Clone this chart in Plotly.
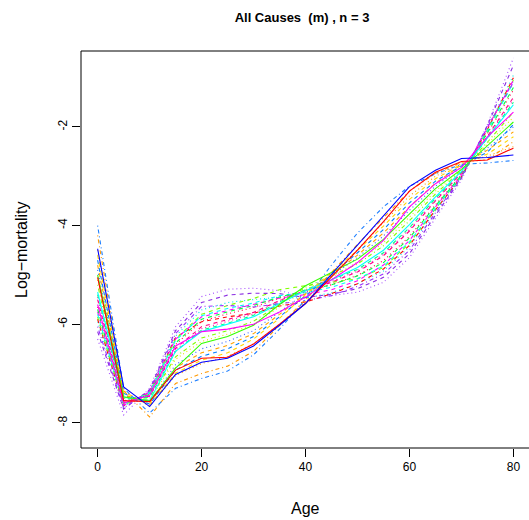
import plotly.graph_objects as go

ages = [0, 5, 10, 15, 20, 25, 30, 35, 40, 45, 50, 55, 60, 65, 70, 75, 80]

blue_solid = [-4.47, -7.27, -7.67, -7.02, -6.77, -6.69, -6.44, -6.02, -5.58, -4.99, -4.39, -3.80, -3.21, -2.88, -2.64, -2.62, -2.57]
red_solid = [-5.05, -7.55, -7.57, -6.93, -6.69, -6.67, -6.40, -6.00, -5.58, -5.05, -4.50, -3.92, -3.30, -2.92, -2.70, -2.67, -2.43]
dodger_dotdash = [-4.00, -7.30, -7.80, -7.30, -7.10, -6.95, -6.62, -6.10, -5.50, -4.80, -4.15, -3.62, -3.20, -2.95, -2.76, -2.73, -2.68]
orange_dotdash = [-4.20, -7.35, -7.88, -7.20, -7.00, -6.85, -6.55, -6.03, -5.50, -4.95, -4.38, -3.84, -3.30, -2.94, -2.72, -2.66, -2.30]
yellow_dash = [-4.60, -7.37, -7.64, -6.99, -6.73, -6.58, -6.30, -5.88, -5.40, -4.95, -4.50, -4.01, -3.47, -3.05, -2.76, -2.55, -2.20]
green_solid = [-5.00, -7.47, -7.56, -6.89, -6.39, -6.25, -6.02, -5.60, -5.22, -4.95, -4.68, -4.28, -3.76, -3.25, -2.86, -2.37, -1.90]
cyan_solid = [-5.35, -7.48, -7.55, -6.55, -6.15, -6.00, -5.85, -5.58, -5.32, -5.10, -4.85, -4.50, -3.98, -3.42, -2.90, -2.22, -1.55]
magenta_solid = [-5.60, -7.60, -7.44, -6.44, -6.15, -6.10, -6.00, -5.75, -5.45, -5.10, -4.75, -4.30, -3.62, -3.15, -2.82, -2.20, -1.70]
purple_dot = [-6.30, -7.84, -7.30, -6.05, -5.44, -5.29, -5.27, -5.32, -5.45, -5.42, -5.35, -5.15, -4.65, -3.85, -3.08, -1.95, -0.60]
purple_dotdash = [-6.05, -7.70, -7.35, -6.19, -5.64, -5.62, -5.65, -5.58, -5.52, -5.42, -5.23, -4.98, -4.50, -3.74, -3.02, -2.00, -1.10]
cyan_dash = [-5.80, -7.62, -7.40, -6.33, -5.83, -5.68, -5.57, -5.42, -5.36, -5.25, -5.08, -4.82, -4.33, -3.64, -3.00, -2.08, -1.10]
red_dash = [-5.90, -7.65, -7.38, -6.27, -5.95, -5.85, -5.78, -5.63, -5.55, -5.38, -5.18, -4.88, -4.40, -3.68, -3.01, -2.05, -1.00]
green_dash = [-5.70, -7.60, -7.42, -6.38, -5.90, -5.75, -5.62, -5.45, -5.32, -5.20, -5.02, -4.75, -4.25, -3.60, -2.98, -2.12, -1.20]
orange_dash = [-4.80, -7.43, -7.60, -6.88, -6.58, -6.43, -6.19, -5.80, -5.38, -5.00, -4.60, -4.15, -3.62, -3.14, -2.77, -2.47, -2.10]
yellow_dot = [-5.10, -7.48, -7.54, -6.71, -6.35, -6.20, -6.00, -5.65, -5.30, -5.05, -4.74, -4.35, -3.83, -3.30, -2.86, -2.35, -1.80]
dodger_dash = [-4.70, -7.40, -7.62, -6.93, -6.65, -6.50, -6.25, -5.85, -5.42, -5.00, -4.55, -4.08, -3.54, -3.10, -2.79, -2.51, -1.95]
magenta_dash = [-5.75, -7.64, -7.38, -6.30, -5.85, -5.72, -5.60, -5.47, -5.40, -5.30, -5.12, -4.80, -4.30, -3.62, -2.98, -2.03, -1.05]
pink_dash = [-5.50, -7.56, -7.46, -6.49, -6.05, -5.90, -5.76, -5.52, -5.32, -5.15, -4.94, -4.61, -4.11, -3.50, -2.93, -2.19, -1.40]
spring_dash = [-5.40, -7.52, -7.48, -6.55, -6.12, -5.98, -5.82, -5.55, -5.30, -5.10, -4.89, -4.55, -4.04, -3.45, -2.91, -2.23, -1.50]
blue_dot = [-4.90, -7.45, -7.58, -6.82, -6.50, -6.35, -6.13, -5.75, -5.37, -5.02, -4.65, -4.21, -3.69, -3.20, -2.82, -2.43, -2.00]
cyan_dot = [-5.95, -7.66, -7.37, -6.24, -5.71, -5.56, -5.50, -5.45, -5.47, -5.36, -5.18, -4.92, -4.43, -3.70, -3.02, -2.03, -0.95]
red_dot = [-5.65, -7.60, -7.43, -6.41, -5.94, -5.79, -5.66, -5.47, -5.34, -5.20, -5.01, -4.71, -4.22, -3.58, -2.97, -2.13, -1.25]
lime_dotdash = [-5.20, -7.50, -7.52, -6.66, -6.28, -6.13, -5.94, -5.60, -5.25, -5.02, -4.78, -4.41, -3.90, -3.36, -2.88, -2.31, -1.70]
orange_dot = [-4.50, -7.35, -7.66, -7.04, -6.80, -6.65, -6.40, -6.00, -5.54, -5.02, -4.49, -3.94, -3.40, -3.00, -2.74, -2.59, -2.40]
violet_dash = [-6.15, -7.72, -7.33, -6.13, -5.56, -5.41, -5.37, -5.38, -5.46, -5.39, -5.28, -5.05, -4.57, -3.79, -3.04, -1.97, -0.75]
magenta_dot = [-5.45, -7.55, -7.47, -6.52, -6.09, -5.94, -5.79, -5.52, -5.30, -5.13, -4.92, -4.58, -4.08, -3.48, -2.94, -2.21, -1.45]
lime_dash = [-5.85, -7.64, -7.39, -6.30, -5.80, -5.62, -5.48, -5.30, -5.22, -5.15, -5.08, -4.85, -4.36, -3.66, -3.00, -2.06, -1.05]

y_tick_vals = [-8, -6, -4, -2]
y_tick_text = ["-8", "-6", "-4", "-2"]
x_tick_vals = [0, 20, 40, 60, 80]

DASH = "4px,4px"
DOT = "1px,3px"
DOTDASH = "1px,3px,4px,3px"
SOLID = "solid"

series = [
    (purple_dot, "#A54CFF", DOT),
    (violet_dash, "#8A2BE2", DASH),
    (cyan_dot, "#00E5E5", DOT),
    (red_dash, "#FF0000", DASH),
    (lime_dash, "#80FF00", DASH),
    (magenta_dash, "#FF00FF", DASH),
    (cyan_dash, "#00FFFF", DASH),
    (red_dot, "#FF0040", DOT),
    (green_dash, "#00FF40", DASH),
    (pink_dash, "#FF0080", DASH),
    (magenta_dot, "#FF00C0", DOT),
    (spring_dash, "#00FF80", DASH),
    (lime_dotdash, "#80FF00", DOTDASH),
    (yellow_dot, "#E6E600", DOT),
    (blue_dot, "#3060FF", DOT),
    (orange_dash, "#FFA500", DASH),
    (dodger_dash, "#0080FF", DASH),
    (yellow_dash, "#FFD700", DASH),
    (orange_dot, "#FF9900", DOT),
    (orange_dotdash, "#FF9900", DOTDASH),
    (dodger_dotdash, "#1E7FFF", DOTDASH),
    (purple_dotdash, "#9B30FF", DOTDASH),
    (cyan_solid, "#00FFFF", SOLID),
    (green_solid, "#33FF00", SOLID),
    (magenta_solid, "#FF00FF", SOLID),
    (red_solid, "#FF0000", SOLID),
    (blue_solid, "#0000FF", SOLID),
]

fig = go.Figure()
for vals, col, dash in series:
    fig.add_trace(go.Scatter(x=ages, y=vals, mode="lines",
                             line=dict(color=col, width=1.1, dash=dash),
                             showlegend=False, hoverinfo="skip"))

font = "Liberation Sans, Arial, Helvetica, sans-serif"
fig.update_layout(
    width=529, height=520,
    margin=dict(l=81, r=0, t=51, b=72, autoexpand=False),
    plot_bgcolor="white", paper_bgcolor="white",
    hovermode=False,
    title=dict(text="<b>All Causes  (m) , n = 3</b>", x=302 / 529, xanchor="center",
               y=1 - 17 / 520, yanchor="middle", font=dict(family=font, size=13, color="black")),
    xaxis=dict(range=[-3.2, 83.0], tickvals=x_tick_vals, ticks="outside", ticklen=8,
               tickcolor="black", showgrid=False, zeroline=False, showline=False,
               automargin=False,
               tickfont=dict(family=font, size=12, color="black")),
    yaxis=dict(range=[-8.51, -0.46], tickvals=y_tick_vals, ticktext=y_tick_text,
               ticks="outside", ticklen=8, tickcolor="black", tickangle=-90,
               showgrid=False, zeroline=False, showline=False, automargin=False,
               tickfont=dict(family=font, size=12, color="black")),
    shapes=[dict(type="rect", xref="paper", yref="paper", x0=0, x1=1.01, y0=0, y1=1,
                 line=dict(color="black", width=1), layer="above")],
    annotations=[
        dict(text="Age", xref="paper", yref="paper", x=(305 - 81) / 448, y=-(509 - 448) / 397,
             xanchor="center", yanchor="middle", showarrow=False,
             font=dict(family=font, size=16, color="black")),
        dict(text="Log\u2212mortality", xref="paper", yref="paper", x=-(81 - 22) / 448,
             y=(448 - 250) / 397, xanchor="center", yanchor="middle", textangle=-90,
             showarrow=False, font=dict(family=font, size=16, color="black")),
    ],
)

fig.write_html("out.html", config={"displayModeBar": False},
               post_script="document.body.style.margin='0';document.body.style.padding='0';")
